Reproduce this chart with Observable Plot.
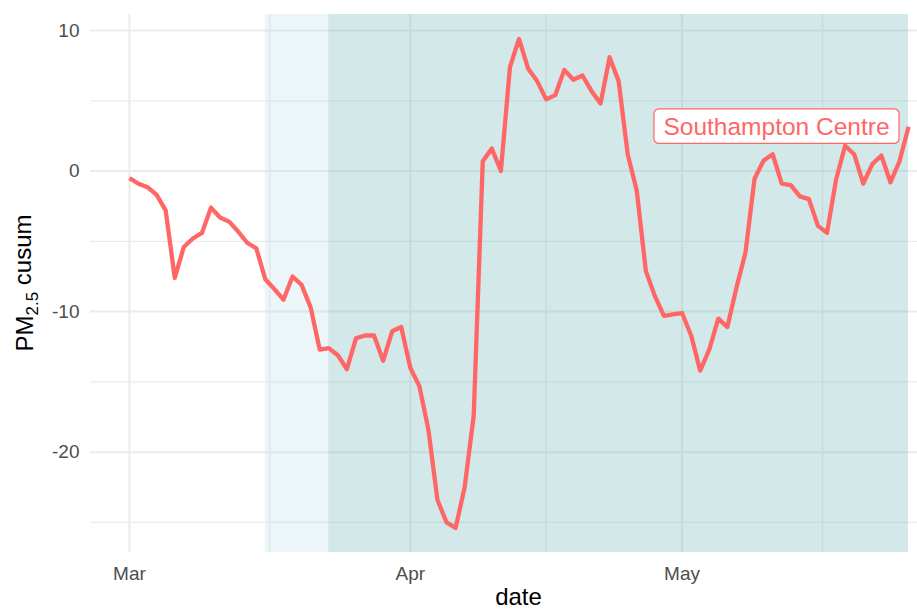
<!DOCTYPE html>
<html>
<head>
<meta charset="utf-8">
<script src="https://cdn.jsdelivr.net/npm/d3@7"></script>
<script src="https://cdn.jsdelivr.net/npm/@observablehq/plot@0.6"></script>
<style>
html, body { margin: 0; padding: 0; background: #fff; overflow: hidden; }
#wrap { width: 917px; height: 610px; overflow: hidden; position: relative; }
#wrap svg { max-width: none !important; height: 610px !important; display: block; }
</style>
</head>
<body>
<div id="wrap"></div>
<script>
// ---------- data ----------
const startDate = "2020-03-01";
const cusum = [
  -0.5, -0.9, -1.15, -1.7, -2.8, -7.6, -5.4, -4.8, -4.4, -2.6,
  -3.3, -3.6, -4.3, -5.1, -5.5, -7.7, -8.4, -9.15, -7.5, -8.1,
  -9.7, -12.7, -12.6, -13.1, -14.1, -11.9, -11.7, -11.7, -13.5, -11.4,
  -11.1, -14.0, -15.3, -18.4, -23.4, -25.0, -25.4, -22.5, -17.4, 0.7,
  1.6, 0.0, 7.4, 9.4, 7.3, 6.4, 5.1, 5.4, 7.2, 6.5,
  6.8, 5.7, 4.8, 8.1, 6.4, 1.2, -1.4, -7.1, -8.9, -10.3,
  -10.2, -10.1, -11.7, -14.2, -12.7, -10.5, -11.1, -8.3, -5.8, -0.55,
  0.75, 1.2, -0.9, -1.0, -1.8, -2.0, -3.9, -4.4, -0.6, 1.8,
  1.2, -0.9, 0.5, 1.1, -0.8, 0.7, 3.15
];
const siteName = "Southampton Centre";
const phaseNames = ["pre-lockdown", "lockdown"];
const phaseStart = ["2020-03-16", "2020-03-23"];
const phaseEnd = ["2020-03-23", "2020-05-26"];
const monthBreaks = ["2020-03-01", "2020-04-01", "2020-05-01", "2020-06-01"];
const monthLabels = ["Mar", "Apr", "May"];
const yMajor = [10, 0, -10, -20];
const yMinor = [5, -5, -15, -25];
const xTitle = "date";

// ---------- build ----------
const parse = d3.utcParse("%Y-%m-%d");
const t0 = parse(startDate);
const data = cusum.map((v, i) => ({date: d3.utcDay.offset(t0, i), value: v}));
const xExt = d3.extent(data, d => d.date);
const xSpan = xExt[1] - xExt[0];
const xDomain = [new Date(+xExt[0] - 0.05 * xSpan), new Date(+xExt[1] + 0.05 * xSpan)];
const yExt = d3.extent(cusum);
const ySpan = yExt[1] - yExt[0];
const yDomain = [yExt[0] - 0.05 * ySpan, yExt[1] + 0.05 * ySpan];

const breaks = monthBreaks.map(parse);
const majorX = breaks.slice(0, monthLabels.length);
const minorX = d3.pairs(breaks).map(([a, b]) => new Date((+a + +b) / 2));
const shades = phaseNames.map((p, i) => ({phase: p, start: parse(phaseStart[i]), end: parse(phaseEnd[i])}));
const last = data[data.length - 1];

const LINE = "#FF6666";
const GRID = "#EBEBEB";
const FONT = "'Liberation Sans', Arial, Helvetica, sans-serif";

const W = 950, H = 610;
const M = {left: 90, right: 3, top: 14, bottom: 58};

const chart = Plot.plot({
  width: W,
  height: H,
  marginLeft: M.left,
  marginRight: M.right,
  marginTop: M.top,
  marginBottom: M.bottom,
  style: {fontFamily: FONT, fontSize: "19px", background: "#fff", overflow: "hidden", maxWidth: "none"},
  x: {type: "utc", domain: xDomain},
  y: {domain: yDomain},
  marks: [
    Plot.gridY(yMinor, {stroke: GRID, strokeOpacity: 1, strokeWidth: 1.3}),
    Plot.gridY(yMajor, {stroke: GRID, strokeOpacity: 1, strokeWidth: 2}),
    Plot.gridX(minorX, {stroke: GRID, strokeOpacity: 1, strokeWidth: 1.3}),
    Plot.gridX(majorX, {stroke: GRID, strokeOpacity: 1, strokeWidth: 2}),
    Plot.rect(shades.filter(d => d.phase === "pre-lockdown"), {x1: "start", x2: "end", fill: "#B4DCE6", fillOpacity: 0.25}),
    Plot.rect(shades.filter(d => d.phase === "lockdown"), {x1: "start", x2: "end", fill: "#6CB2B2", fillOpacity: 0.3}),
    Plot.line(data, {x: "date", y: "value", stroke: LINE, strokeWidth: 4.3, strokeLinejoin: "round", strokeLinecap: "butt"}),
    Plot.text([last], {x: "date", y: "value", text: () => siteName, textAnchor: "end", lineAnchor: "middle", dx: -19, fill: LINE, fontSize: 24.5}),
    Plot.axisY(yMajor, {tickSize: 0, tickPadding: 11, label: null, color: "#4D4D4D", fontSize: 19, tickFormat: d => String(d)}),
    Plot.axisX(majorX, {tickSize: 0, tickPadding: 14, label: null, color: "#4D4D4D", fontSize: 19,
      tickFormat: d => monthLabels[majorX.findIndex(m => +m === +d)]})
  ]
});

document.getElementById("wrap").appendChild(chart);

// ---------- annotation box and axis titles ----------
const svg = d3.select(chart);
svg.selectAll("text").filter(function() { return this.textContent === siteName; }).each(function() {
  const bb = this.getBBox();
  const padX = 9.5, padY = 3.8;
  d3.select(this.parentNode).insert("rect", () => this)
    .attr("transform", this.getAttribute("transform"))
    .attr("x", bb.x - padX).attr("y", bb.y - padY)
    .attr("width", bb.width + 2 * padX).attr("height", bb.height + 2 * padY)
    .attr("rx", 5).attr("ry", 5)
    .attr("fill", "#fff").attr("stroke", LINE).attr("stroke-width", 1.2);
});

const xr = chart.scale("x").range;
const yr = chart.scale("y").range;
svg.append("text")
  .attr("x", (xr[0] + xr[1]) / 2).attr("y", H - 5)
  .attr("text-anchor", "middle").attr("fill", "#000")
  .style("font-family", FONT).style("font-size", "24px")
  .text(xTitle);

const yt = svg.append("text")
  .attr("transform", `translate(33,${(yr[0] + yr[1]) / 2}) rotate(-90)`)
  .attr("text-anchor", "middle").attr("fill", "#000")
  .style("font-family", FONT).style("font-size", "24px");
yt.append("tspan").text("PM");
yt.append("tspan").attr("dy", "0.3em").style("font-size", "17px").text("2.5");
yt.append("tspan").attr("dy", "-0.3em").text(" cusum");
</script>
</body>
</html>
